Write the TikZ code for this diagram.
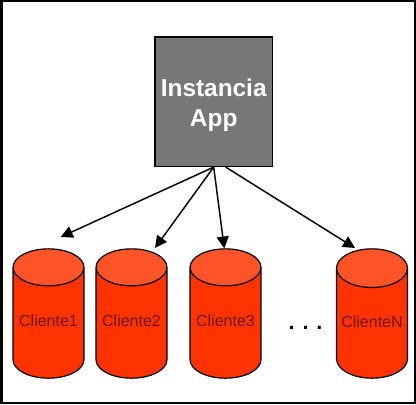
\documentclass[tikz,border=0pt]{standalone}
\usepackage{fontspec}
\setmainfont{Liberation Sans}
\usetikzlibrary{shapes.geometric,arrows.meta}
\definecolor{boxgray}{RGB}{119,119,119}
\definecolor{dbbody}{RGB}{255,51,0}
\definecolor{dbtop}{RGB}{255,84,40}
\definecolor{dbtext}{RGB}{110,20,0}
\newcommand{\dbname}[1]{\raisebox{3.4pt}{#1}}
\tikzset{
  dbnode/.style={draw=black,line width=0.9pt,shape=cylinder,shape border rotate=90,aspect=0.63,
    anchor=shape center,minimum width=53.2pt,minimum height=97pt,inner sep=0pt,cylinder uses custom fill,
    cylinder body fill=dbbody,cylinder end fill=dbtop,text=dbtext,font=\fontsize{12}{14}\selectfont},
  arrowline/.style={line width=1.1pt,-{Triangle[length=9pt,width=9pt]}}
}
\begin{document}
\begin{tikzpicture}[x=0.75pt,y=-0.75pt]
\useasboundingbox (0,0) rectangle (416,404);
\fill[black] (0,0) rectangle (416,404);
\fill[white] (2.5,1.5) rectangle (413.5,401.5);
\node[draw=black,line width=1.1pt,fill=boxgray,minimum width=88pt,minimum height=97pt,inner sep=0pt,
  align=center,text=white,font=\fontsize{18.3}{22.5}\selectfont\bfseries] (app) at (213.7,101.7) {\rule{0pt}{18pt}Instancia\\App};
\node[dbnode] (cliente1) at (48.5,313.5) {\dbname{Cliente1}};
\node[dbnode] (cliente2) at (131.5,313.5) {\dbname{Cliente2}};
\node[dbnode] (cliente3) at (225.5,313.5) {\dbname{Cliente3}};
\node[dbnode] (clienteN) at (372,313.5) {\dbname{ClienteN}};
\node[font=\fontsize{16.2}{16}\selectfont\bfseries] (dots) at (305.5,328) {. . .};
\coordinate (end1) at (60.7,237);
\coordinate (end2) at (155,248);
\coordinate (end3) at (224.3,248.5);
\coordinate (endN) at (355,248);
\draw[arrowline] (app.south) -- (end1);
\draw[arrowline] (app.south) -- (end2);
\draw[arrowline] (app.south) -- (end3);
\draw[arrowline] ([xshift=9pt]app.south) -- (endN);
\end{tikzpicture}
\end{document}
